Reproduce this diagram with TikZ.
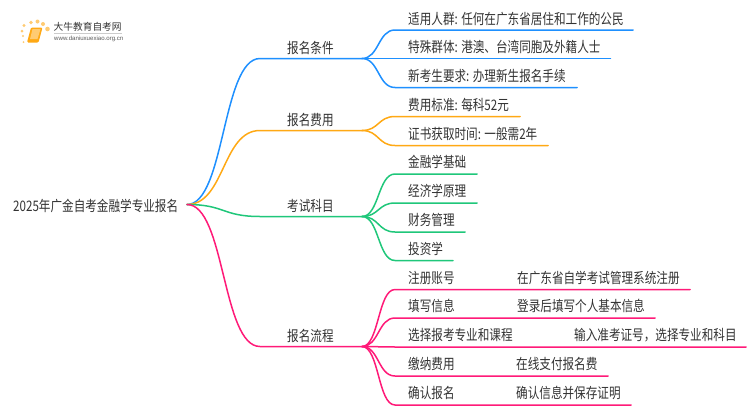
\documentclass[tikz,border=0pt]{standalone}
\usepackage{fontspec}
\setmainfont{Noto Sans CJK SC}[FakeStretch=0.8]
\newfontfamily\logofont{Noto Sans CJK SC}
\newfontfamily\urlfont{Liberation Sans}
\definecolor{cblue}{HTML}{1E90FF}
\definecolor{corange}{HTML}{FFA914}
\definecolor{cgreen}{HTML}{1FC77A}
\definecolor{cpink}{HTML}{FF1A78}
\definecolor{ctext}{HTML}{333333}
\tikzset{
  lbl/.style={inner sep=0pt,anchor=base west,text=ctext,font=\fontsize{14.5pt}{15pt}\selectfont},
  wire/.style={line width=1.5pt,line cap=round},
}
\begin{document}
\begin{tikzpicture}[x=1pt,y=-1pt]
\useasboundingbox (0,0) rectangle (750,410);
\fill[white] (0,0) rectangle (750,410);
% logo
\foreach \a/\b/\r in {24/25.5/1.7,31/22.5/1.9,37.5/21.5/2,43/24/2,47.5/29/2.3,22/31/1.5,23/36/1.2,23.5/42/1}
  \fill[corange!60!white] (\a,\b) circle (\r);
\fill[corange,rounded corners=1.2pt] (31,27.5) -- (42.5,27.5) -- (38.5,42.5) -- (27,42.5) -- cycle;
\fill[corange!60!white] (32.5,29) -- (40.5,29) -- (37.5,39) -- (30,39) -- cycle;
\node[inner sep=0pt,anchor=west,text=black!80] (logoa) at (53.5,27) {\logofont\fontsize{9.7pt}{10pt}\selectfont 大牛教育自考网};
\node[inner sep=0pt,anchor=west,text=black!65] (logob) at (54,38.7) {\urlfont\fontsize{6.1pt}{7pt}\selectfont www.daniuxuexiao.org.cn};
\draw[black!20,line width=.5pt] (54,33) -- (122,33);
% root
\coordinate (r) at (187,204.5);
\node[lbl] (root) at (13,211) {2025年广金自考金融学专业报名};
% level 1
\coordinate (b1) at (260,58.5); \coordinate (b1e) at (362,58.5);
\coordinate (b2) at (260,130.5); \coordinate (b2e) at (362,130.5);
\coordinate (b3) at (260,216.5); \coordinate (b3e) at (362,216.5);
\coordinate (b4) at (260,346.5); \coordinate (b4e) at (362,346.5);
\draw[wire,cblue] (r) .. controls (225,204.5) and (222,58.5) .. (b1) -- (b1e);
\draw[wire,corange] (r) .. controls (225,204.5) and (222,130.5) .. (b2) -- (b2e);
\draw[wire,cgreen] (r) .. controls (225,204.5) and (222,216.5) .. (b3) -- (b3e);
\draw[wire,cpink] (r) .. controls (225,204.5) and (222,346.5) .. (b4) -- (b4e);
\node[lbl] (n1) at (287,53) {报名条件};
\node[lbl] (n2) at (287,125) {报名费用};
\node[lbl] (n3) at (287,211) {考试科目};
\node[lbl] (n4) at (287,341) {报名流程};
% level 2
\foreach \c/\s/\sy/\y/\e in {
 cblue/b1e/58.5/30/633,
 cblue/b1e/58.5/58.5/610.5,
 cblue/b1e/58.5/87.5/577,
 corange/b2e/130.5/116.5/520,
 corange/b2e/130.5/145.5/548,
 cgreen/b3e/216.5/174/477,
 cgreen/b3e/216.5/203/477,
 cgreen/b3e/216.5/232/465,
 cgreen/b3e/216.5/260.5/453,
 cpink/b4e/346.5/289.5/690,
 cpink/b4e/346.5/318/655,
 cpink/b4e/346.5/347/746,
 cpink/b4e/346.5/376/608,
 cpink/b4e/346.5/405/631}{
  \coordinate (k) at (\e,\y);
  \draw[wire,\c] (\s) .. controls (379,\sy) and (378,\y) .. (395,\y) -- (k);
}
\foreach \y/\t in {24/{适用人群: 任何在广东省居住和工作的公民},52/{特殊群体: 港澳、台湾同胞及外籍人士},81/{新考生要求: 办理新生报名手续},110/{费用标准: 每科52元},139/{证书获取时间: 一般需2年},167/{金融学基础},196/{经济学原理},225/{财务管理},254/{投资学},283/{注册账号},311/{填写信息},340/{选择报考专业和课程},369/{缴纳费用},398/{确认报名}}
  \node[lbl] at (408,\y) {\t};
\foreach \x/\y/\t in {517/283/{在广东省自学考试管理系统注册},517/311/{登录后填写个人基本信息},574/340/{输入准考证号，选择专业和科目},516/369/{在线支付报名费},516/398/{确认信息并保存证明}}
  \node[lbl] at (\x,\y) {\t};
\end{tikzpicture}
\end{document}
